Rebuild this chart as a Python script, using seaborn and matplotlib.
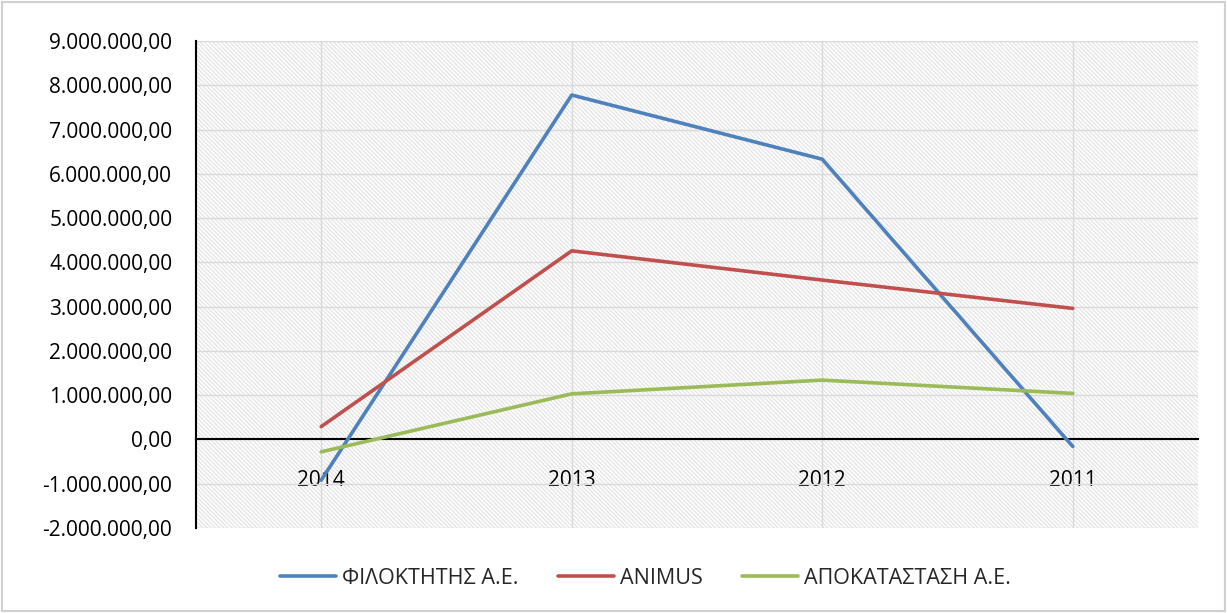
import matplotlib
matplotlib.use("Agg")
import matplotlib.pyplot as plt
import matplotlib.ticker as mticker
from matplotlib.patches import Rectangle
import seaborn as sns
import pandas as pd

years = ["2014", "2013", "2012", "2011"]
filoktitis = [-920000, 7780000, 6330000, -160000]
animus = [290000, 4260000, 3600000, 2960000]
apokatastasi = [-280000, 1030000, 1340000, 1040000]
series_names = ["ΦΙΛΟΚΤΗΤΗΣ Α.Ε.", "ANIMUS", "ΑΠΟΚΑΤΑΣΤΑΣΗ Α.Ε."]
colors = ["#4F81BD", "#C0504D", "#9BBB59"]

rows = []
for name, vals in zip(series_names, [filoktitis, animus, apokatastasi]):
    for y, v in zip(years, vals):
        rows.append({"year": y, "value": v, "series": name})
df = pd.DataFrame(rows)

sns.set_theme(style="white")
plt.rcParams['font.family'] = ['Open Sans', 'DejaVu Sans']
plt.rcParams['hatch.linewidth'] = 0.9

fig = plt.figure(figsize=(12.27, 6.13), dpi=100)
fig.patches.append(Rectangle((0.002, 0.003), 0.996, 0.994, transform=fig.transFigure,
                             fill=False, edgecolor="#d0d0d0", linewidth=1.5))
ax = fig.add_axes([0.1597, 0.1387, 0.8167, 0.7944])

# hatched background
ax.add_patch(Rectangle((0, 0), 1, 1, transform=ax.transAxes, facecolor="white",
                       edgecolor="#e4e4e4", hatch="\\" * 8, linewidth=0, zorder=0))

sns.lineplot(data=df, x="year", y="value", hue="series", palette=colors,
             linewidth=2.6, ax=ax, sort=False, zorder=3)

ax.set_xlim(-0.5, 3.5)
ax.set_ylim(-2000000, 9000000)
ax.yaxis.set_major_locator(mticker.MultipleLocator(1000000))

def fmt(v, pos):
    s = f"{abs(v):,.2f}".replace(",", "X").replace(".", ",").replace("X", ".")
    return ("-" if v < 0 else "") + s
ax.yaxis.set_major_formatter(mticker.FuncFormatter(fmt))

ax.grid(True, color="#dadada", linewidth=1.0, zorder=1)
ax.set_axisbelow(True)
for sp in ["top", "right"]:
    ax.spines[sp].set_visible(False)
ax.spines["left"].set_color("black")
ax.spines["left"].set_linewidth(1.5)
ax.spines["bottom"].set_position(("data", 0))
ax.spines["bottom"].set_color("black")
ax.spines["bottom"].set_linewidth(1.5)
ax.spines["bottom"].set_zorder(2)
ax.tick_params(axis="x", length=0, pad=22, labelsize=15, colors="black")
ax.tick_params(axis="y", length=0, pad=17, labelsize=15, colors="black")
ax.set_xlabel("")
ax.set_ylabel("")

handles, labels = ax.get_legend_handles_labels()
ax.legend(handles, labels, loc="center", bbox_to_anchor=(0.526, 0.057),
          bbox_transform=fig.transFigure, ncol=3, frameon=False,
          fontsize=15.5, handlelength=2.6, columnspacing=1.8, handletextpad=0.3)

fig.savefig("out.png", dpi=100)
